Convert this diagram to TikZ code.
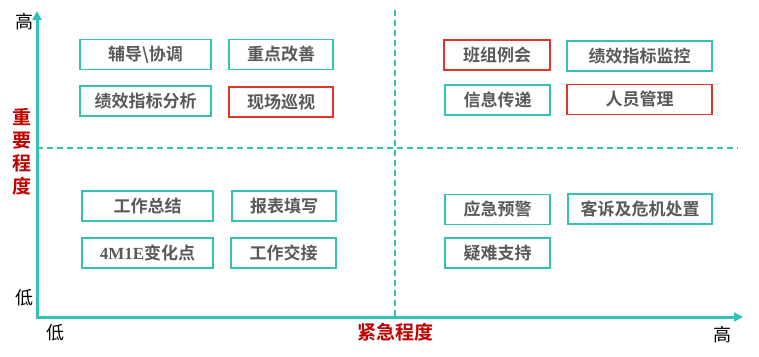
\documentclass[tikz,border=0pt]{standalone}
\usepackage{fontspec}
\usepackage{tikz}
\usetikzlibrary{arrows.meta}
\setmainfont{Noto Sans CJK SC}[BoldFont={Noto Sans CJK SC Bold}]
\newfontfamily\latinserif{Liberation Serif}
\definecolor{quadTeal}{HTML}{33C3B3}
\definecolor{quadRed}{HTML}{E0352B}
\definecolor{axisRed}{HTML}{C00000}
\definecolor{taskInk}{HTML}{595959}

\begin{document}
\begin{tikzpicture}[
    x=1pt, y=-1pt,
    axis/.style={draw=quadTeal, line width=3pt, -{Triangle[length=9pt, width=9pt]}},
    divider/.style={draw=quadTeal, line width=1.6pt, dash pattern=on 6pt off 4pt},
    task/.style={
        draw=quadTeal,
        line width=1.2pt,
        minimum height=30pt,
        inner sep=0pt,
        font=\fontsize{17}{19}\selectfont\bfseries,
        text=taskInk
    },
    urgent/.style={task, draw=quadRed},
    level/.style={font=\fontsize{18}{20}\selectfont, text=black},
    axislabel/.style={font=\fontsize{19}{23}\selectfont\bfseries, text=axisRed, align=center}
]

\useasboundingbox (0,0) rectangle (759,356);

% Axes
\coordinate (origin) at (37,317);
\coordinate (ytop) at (37,11);
\coordinate (xend) at (743,317);
\draw[axis] (origin) -- (ytop);
\draw[axis] ([xshift=-1.5pt]origin) -- (xend);

% Quadrant dividers
\coordinate (midleft) at (37,148);
\coordinate (midright) at (738,148);
\coordinate (midtop) at (395,10);
\coordinate (midbottom) at (395,316);
\draw[divider] (midleft) -- (midright);
\draw[divider] (midtop) -- (midbottom);

% Axis labels
\node[level] (yhigh) at (25,22) {高};
\node[level] (ylow) at (25,298) {低};
\node[level] (xlow) at (55,333) {低};
\node[level] (xhigh) at (722,335) {高};
\node[axislabel] (importance) at (22,152) {重\\要\\程\\度};
\node[axislabel] (urgency) at (395,332) {紧急程度};

% Important, not urgent
\node[task, minimum width=131pt] (coach) at (145.5,54.5) {辅导\textbackslash 协调};
\node[task, minimum width=104pt] (improve) at (281,54.5) {重点改善};
\node[task, minimum width=131pt] (kpianalysis) at (145.5,101) {绩效指标分析};
\node[urgent, minimum width=104pt] (patrol) at (281,102) {现场巡视};

% Important and urgent
\node[urgent, minimum width=106pt] (meeting) at (497,55) {班组例会};
\node[task, minimum width=145pt] (kpimonitor) at (639.5,56) {绩效指标监控};
\node[task, minimum width=105pt] (inform) at (497.5,100) {信息传递};
\node[urgent, minimum width=145pt] (staff) at (639.5,99.5) {人员管理};

% Neither important nor urgent
\node[task, minimum width=131pt] (summary) at (147.5,206) {工作总结};
\node[task, minimum width=104pt] (report) at (284,206) {报表填写};
\node[task, minimum width=131pt] (change) at (147.5,253) {{\latinserif\bfseries 4M1E}变化点};
\node[task, minimum width=105pt] (handover) at (283.5,253) {工作交接};

% Urgent, not important
\node[task, minimum width=105pt] (warning) at (497.5,209.5) {应急预警};
\node[task, minimum width=144pt] (complaint) at (640,209) {客诉及危机处置};
\node[task, minimum width=105pt] (support) at (497.5,253) {疑难支持};

\end{tikzpicture}
\end{document}
